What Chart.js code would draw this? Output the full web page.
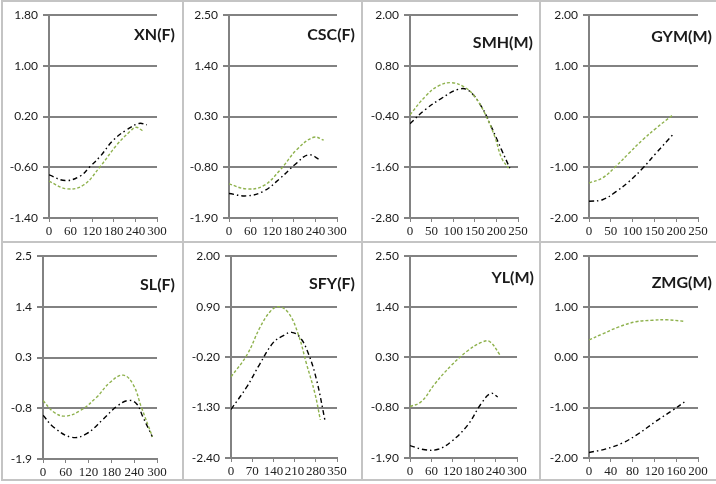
<!DOCTYPE html>
<html>
<head>
<meta charset="utf-8">
<script src="https://cdn.jsdelivr.net/npm/chart.js@4"></script>
<style>
  body { margin: 0; background: #fff; width: 716px; height: 484px; position: relative; overflow: hidden; }
  .cell { position: absolute; }
  .cell canvas { position: absolute; left: 0; top: 0; }
  .ttl { position: absolute; font: bold 16px Lato, "Open Sans", sans-serif; color: #1a1a1a; text-align: right; white-space: nowrap; }
  .line { position: absolute; background: #c4c4c4; }
</style>
</head>
<body>
<script>
// panel titles, in reading order
const titles = ['XN(F)', 'CSC(F)', 'SMH(M)', 'GYM(M)', 'SL(F)', 'SFY(F)', 'YL(M)', 'ZMG(M)'];

// tick labels per panel
const yTicks = [
  [-1.40, -0.60, 0.20, 1.00, 1.80],
  [-1.90, -0.80, 0.30, 1.40, 2.50],
  [-2.80, -1.60, -0.40, 0.80, 2.00],
  [-2.00, -1.00, 0.00, 1.00, 2.00],
  [-1.9, -0.8, 0.3, 1.4, 2.5],
  [-2.40, -1.30, -0.20, 0.90, 2.00],
  [-1.90, -0.80, 0.30, 1.40, 2.50],
  [-2.00, -1.00, 0.00, 1.00, 2.00]
];
const yDecimals = [2, 2, 2, 2, 1, 2, 2, 2];
const xTicks = [
  [0, 60, 120, 180, 240, 300],
  [0, 60, 120, 180, 240, 300],
  [0, 50, 100, 150, 200, 250],
  [0, 50, 100, 150, 200, 250],
  [0, 60, 120, 180, 240, 300],
  [0, 70, 140, 210, 280, 350],
  [0, 60, 120, 180, 240, 300],
  [0, 40, 80, 120, 160, 200]
];

// series values (green dashed / black dash-dot)
const xnGreenX  = [0, 49, 96, 142, 188, 226, 242, 261];
const xnGreenY  = [-0.82, -0.94, -0.88, -0.59, -0.25, -0.03, 0.03, -0.03];
const xnBlackX  = [0, 45, 86, 114, 142, 179, 216, 250, 272];
const xnBlackY  = [-0.72, -0.81, -0.74, -0.59, -0.43, -0.17, -0.01, 0.09, 0.07];

const cscGreenX = [0, 49, 96, 142, 188, 235, 263];
const cscGreenY = [-1.16, -1.27, -1.20, -0.86, -0.42, -0.15, -0.21];
const cscBlackX = [0, 49, 96, 142, 188, 221, 253];
const cscBlackY = [-1.37, -1.42, -1.32, -1.04, -0.71, -0.53, -0.64];

const smhGreenX = [0, 35, 65, 96, 127, 150, 173, 196, 212, 228];
const smhGreenY = [-0.36, 0.07, 0.32, 0.40, 0.29, 0.07, -0.32, -0.87, -1.38, -1.62];
const smhBlackX = [0, 35, 73, 111, 135, 165, 188, 212, 231];
const smhBlackY = [-0.57, -0.24, 0.03, 0.24, 0.22, -0.16, -0.64, -1.19, -1.62];

const gymGreenX = [0, 31, 62, 92, 123, 154, 192];
const gymGreenY = [-1.31, -1.21, -0.98, -0.72, -0.46, -0.23, 0.03];
const gymBlackX = [0, 31, 62, 92, 123, 154, 192];
const gymBlackY = [-1.67, -1.64, -1.48, -1.28, -1.02, -0.72, -0.36];

const slGreenX  = [0, 28, 58, 98, 141, 176, 211, 237, 259, 288];
const slGreenY  = [-0.63, -0.88, -0.97, -0.85, -0.56, -0.24, -0.08, -0.28, -0.78, -1.42];
const slBlackX  = [0, 28, 76, 115, 159, 194, 224, 246, 263, 288];
const slBlackY  = [-0.95, -1.21, -1.43, -1.35, -1.03, -0.76, -0.63, -0.70, -0.99, -1.42];

const sfyGreenX = [0, 52, 96, 129, 156, 189, 222, 249, 277, 295];
const sfyGreenY = [-0.63, -0.16, 0.45, 0.79, 0.90, 0.77, 0.30, -0.34, -0.99, -1.57];
const sfyBlackX = [0, 52, 96, 140, 173, 200, 228, 256, 283, 310];
const sfyBlackY = [-1.34, -0.85, -0.34, 0.12, 0.27, 0.34, 0.23, -0.13, -0.71, -1.57];

const ylGreenX  = [0, 32, 70, 116, 162, 200, 223, 253];
const ylGreenY  = [-0.78, -0.67, -0.28, 0.12, 0.44, 0.62, 0.64, 0.34];
const ylBlackX  = [0, 42, 79, 116, 162, 200, 227, 246];
const ylBlackY  = [-1.63, -1.72, -1.71, -1.54, -1.18, -0.71, -0.49, -0.57];

const zmgGreenX = [0, 25, 55, 86, 117, 142, 175];
const zmgGreenY = [0.34, 0.46, 0.60, 0.70, 0.73, 0.74, 0.71];
const zmgBlackX = [0, 31, 62, 92, 123, 154, 175];
const zmgBlackY = [-1.89, -1.82, -1.70, -1.51, -1.27, -1.05, -0.89];

const greenSeries = [
  [xnGreenX, xnGreenY], [cscGreenX, cscGreenY], [smhGreenX, smhGreenY], [gymGreenX, gymGreenY],
  [slGreenX, slGreenY], [sfyGreenX, sfyGreenY], [ylGreenX, ylGreenY], [zmgGreenX, zmgGreenY]
];
const blackSeries = [
  [xnBlackX, xnBlackY], [cscBlackX, cscBlackY], [smhBlackX, smhBlackY], [gymBlackX, gymBlackY],
  [slBlackX, slBlackY], [sfyBlackX, sfyBlackY], [ylBlackX, ylBlackY], [zmgBlackX, zmgBlackY]
];

// layout: cells and plot boxes (page pixels)
const colEdges = [[3, 182], [185, 361], [363, 539], [542, 716]];
const rowEdges = [[2, 241], [244, 479]];
const plotBoxes = [
  [49, 15, 157, 218], [229, 15, 337, 218], [410, 15, 518, 218], [589, 15, 698, 218],
  [43, 254, 157, 459], [231, 255, 337, 458], [410, 255, 517, 458], [589, 255, 698, 458]
];
const titleSpots = [[175, 35], [355, 35], [533, 43], [712, 37], [175, 285], [355, 284], [534, 278], [712, 283]];

const GRID = '#828282';

function addLine(x, y, w, h) {
    const d = document.createElement('div');
    d.className = 'line';
    d.style.left = x + 'px'; d.style.top = y + 'px';
    d.style.width = w + 'px'; d.style.height = h + 'px';
    document.body.appendChild(d);
}

// panel frame lines
addLine(1, 0, 715, 2);
addLine(1, 0, 2, 481);
addLine(1, 479, 715, 2);
addLine(182, 0, 2, 481);
addLine(361, 0, 2, 481);
addLine(539, 0, 2, 481);
addLine(1, 241, 715, 2);

function toPoints(pair) {
    return pair[0].map((x, i) => ({ x: x, y: pair[1][i] }));
}

titles.forEach((title, i) => {
    const [cl, cr] = colEdges[i % 4];
    const [ct, cb] = rowEdges[Math.floor(i / 4)];
    const [pl, pt, pr, pb] = plotBoxes[i];
    const w = cr - cl, h = cb - ct;

    const cell = document.createElement('div');
    cell.className = 'cell';
    cell.style.left = cl + 'px'; cell.style.top = ct + 'px';
    cell.style.width = w + 'px'; cell.style.height = h + 'px';
    const cv = document.createElement('canvas');
    cv.width = w; cv.height = h;
    cv.style.width = w + 'px'; cv.style.height = h + 'px';
    cell.appendChild(cv);
    document.body.appendChild(cell);

    const t = document.createElement('div');
    t.className = 'ttl';
    t.textContent = title;
    t.style.right = (716 - titleSpots[i][0]) + 'px';
    t.style.top = (titleSpots[i][1] - 11) + 'px';
    document.body.appendChild(t);

    const yt = yTicks[i], xt = xTicks[i], dec = yDecimals[i];
    const yAxisW = pl - cl, xAxisH = cb - pb;

    new Chart(cv.getContext('2d'), {
        type: 'line',
        data: {
            datasets: [{
                data: toPoints(greenSeries[i]),
                borderColor: '#8fb24e',
                borderWidth: 1.4,
                borderDash: [3, 2],
                pointRadius: 0,
                tension: 0.4,
                fill: false
            }, {
                data: toPoints(blackSeries[i]),
                borderColor: '#000000',
                borderWidth: 1.4,
                borderDash: [5, 3, 1.5, 3],
                pointRadius: 0,
                tension: 0.4,
                fill: false
            }]
        },
        options: {
            responsive: false,
            animation: false,
            devicePixelRatio: 1,
            layout: { padding: { top: pt - ct, right: cr - pr, left: 0, bottom: 0 } },
            plugins: { legend: { display: false }, tooltip: { enabled: false } },
            scales: {
                x: {
                    type: 'linear',
                    min: xt[0], max: xt[xt.length - 1],
                    afterBuildTicks: s => { s.ticks = xt.map(v => ({ value: v })); },
                    afterFit: s => { s.height = xAxisH; },
                    grid: { drawOnChartArea: false, drawTicks: true, tickLength: 4, color: GRID, lineWidth: 1 },
                    border: { display: true, color: GRID, width: 2 },
                    ticks: {
                        autoSkip: false, maxRotation: 0, minRotation: 0, padding: 2,
                        color: '#222', font: { family: '"Liberation Serif", serif', size: 13 },
                        callback: v => String(v)
                    }
                },
                y: {
                    type: 'linear',
                    min: yt[0], max: yt[yt.length - 1],
                    afterBuildTicks: s => { s.ticks = yt.map(v => ({ value: v })); },
                    afterFit: s => { s.width = yAxisW; },
                    grid: { drawTicks: true, tickLength: 6, color: GRID, lineWidth: 2 },
                    border: { display: true, color: GRID, width: 2 },
                    ticks: {
                        padding: 5, color: '#1a1a1a',
                        font: { family: 'Lato, "Open Sans", sans-serif', size: 12 },
                        callback: v => Number(v).toFixed(dec)
                    }
                }
            }
        }
    });
});
</script>
</body>
</html>
